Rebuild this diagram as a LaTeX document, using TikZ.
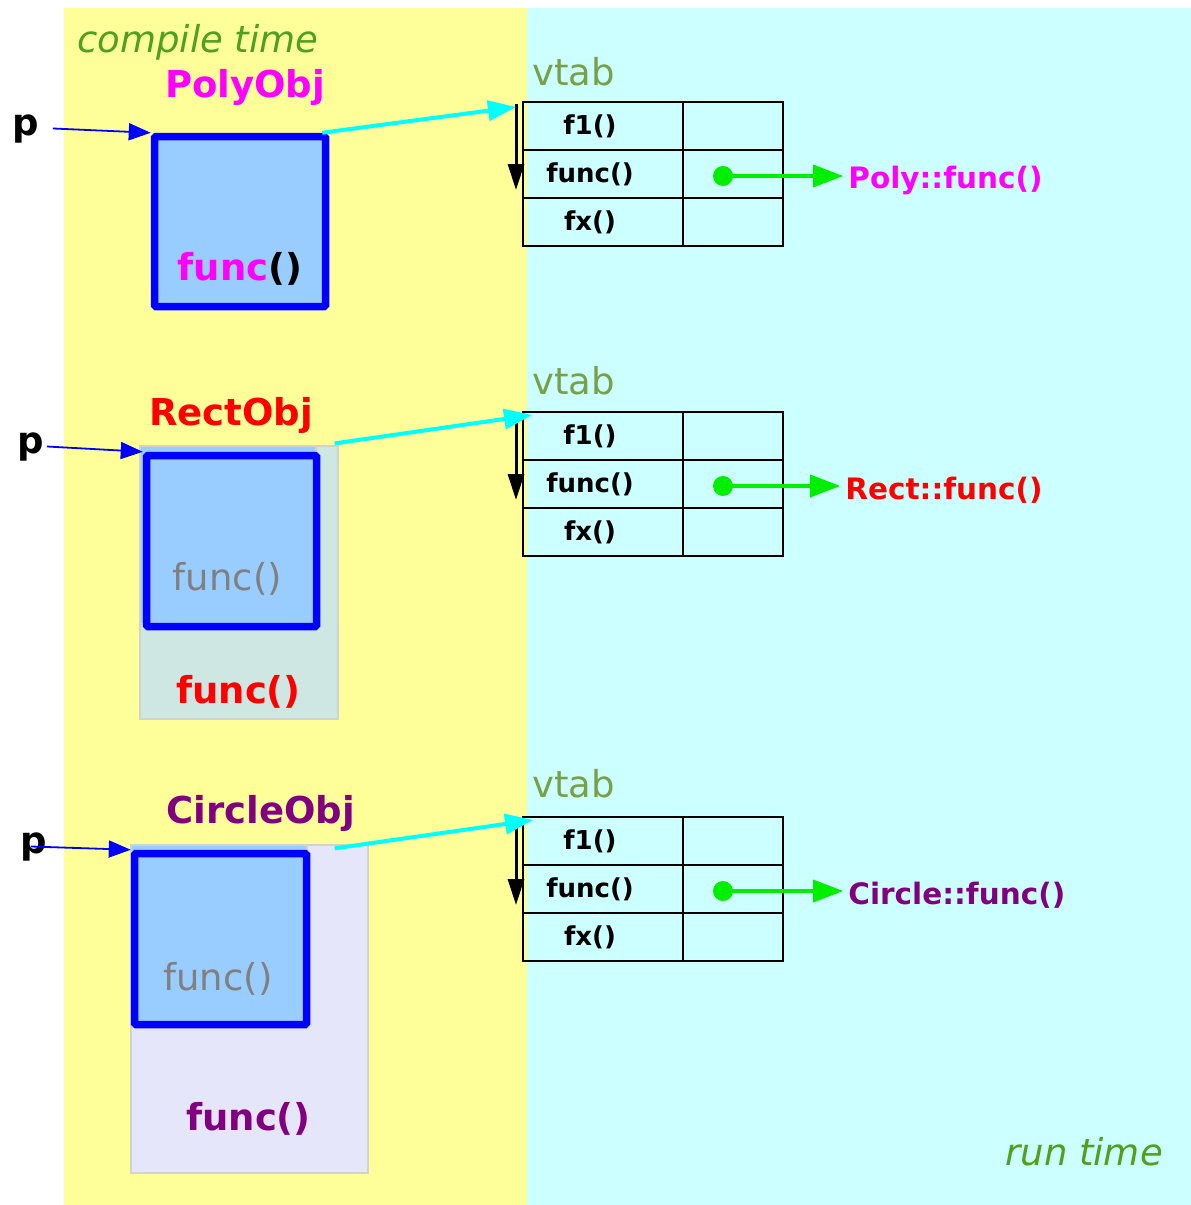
\documentclass[tikz,border=0pt]{standalone}
\usepackage{fontspec}
\setmainfont{DejaVu Sans}[BoldFont={DejaVu Sans Bold}, ItalicFont={DejaVu Sans Oblique}]
\usetikzlibrary{arrows.meta, positioning}
\definecolor{ctime}{RGB}{255,255,153}
\definecolor{rtime}{RGB}{204,255,255}
\definecolor{timetxt}{RGB}{80,160,30}
\definecolor{vttxt}{RGB}{120,160,70}
\definecolor{objblue}{RGB}{0,0,255}
\definecolor{objfill}{RGB}{153,204,255}
\definecolor{rectfill}{RGB}{207,231,227}
\definecolor{circfill}{RGB}{230,230,250}
\definecolor{ptrgreen}{RGB}{0,238,0}
\definecolor{vptr}{RGB}{0,255,255}
\definecolor{polymag}{RGB}{255,0,255}
\definecolor{rectred}{RGB}{255,0,0}
\definecolor{circpurple}{RGB}{128,0,128}
\tikzset{
  phase/.style={font=\fontsize{37}{44}\selectfont\itshape, text=timetxt, inner sep=0pt},
  objname/.style={font=\fontsize{37}{44}\selectfont\bfseries, inner sep=0pt},
  plbl/.style={font=\fontsize{37}{44}\selectfont\bfseries, inner sep=3pt},
  basefn/.style={font=\fontsize{37}{44}\selectfont, text=gray, inner sep=0pt},
  vtname/.style={font=\fontsize{37}{44}\selectfont, text=vttxt, inner sep=0pt},
  ftxt/.style={font=\fontsize{26}{31}\selectfont\bfseries, inner sep=0pt},
  tgt/.style={font=\fontsize{29.5}{35}\selectfont\bfseries, inner xsep=5pt, anchor=west},
  % object layout
  objframe/.style={rectangle, draw=objblue, line width=7.5pt, rounded corners=1.5pt, inner sep=0pt},
  basepart/.style={rectangle, fill=objfill, draw=gray!35, line width=1.2pt, inner sep=0pt},
  derived/.style={rectangle, draw=gray!35, line width=1.2pt, inner sep=0pt},
  % vtab cells
  cell/.style={rectangle, draw=black, line width=1.2pt, minimum width=160pt,
               minimum height=48pt, inner sep=0pt, outer sep=0pt},
  pcell/.style={cell, minimum width=100pt},
  dot/.style={circle, fill=ptrgreen, minimum size=20pt, inner sep=0pt},
  % pointers
  parr/.style={-{Triangle[length=22pt, width=17pt]}, draw=objblue, line width=1.8pt},
  varr/.style={-{Triangle[length=28pt, width=20pt]}, draw=vptr, line width=4pt},
  iarr/.style={-{Triangle[length=26pt, width=16pt]}, draw=black, line width=3pt},
  garr/.style={-{Triangle[length=30pt, width=22pt]}, draw=ptrgreen, line width=3.5pt}
}

\begin{document}
\begin{tikzpicture}[x=1pt, y=-1pt]
  \useasboundingbox (0,0) rectangle (1191,1205);
  \fill[ctime] (64,8) rectangle (527,1205);
  \fill[rtime] (527,8) rectangle (1191,1205);
  \node[phase, anchor=base west] (ctlbl) at (77,52) {compile time};
  \node[phase, anchor=base east] (rtlbl) at (1163,1165) {run time};

  % PolyObj
  \node[objname, text=polymag, anchor=base] (polyname) at (245,97) {PolyObj};
  \node[objframe, fill=objfill, minimum width=171pt, minimum height=170pt] (poly) at (240,221.5) {};
  \node[objname, anchor=base] (polyfn) at (240,280) {\textcolor{polymag}{func}()};
  \node[plbl, anchor=base west] (p1) at (9,135) {p};

  % RectObj
  \node[objname, text=rectred, anchor=base] (rectname) at (231,425) {RectObj};
  \node[derived, fill=rectfill, minimum width=198pt, minimum height=273pt] (rect) at (239,582.5) {};
  \node[basepart, minimum width=176pt, minimum height=178pt] (rectbase) at (228,535) {};
  \node[objframe, minimum width=170pt, minimum height=171pt] (rectptr) at (231.5,541) {};
  \node[basefn, anchor=base] (rectbfn) at (227.5,590) {func()};
  \node[objname, text=rectred, anchor=base] (rectfn) at (238.5,703) {func()};
  \node[plbl, anchor=base west] (p2) at (14,453) {p};

  % CircleObj
  \node[objname, text=circpurple, anchor=base] (circname) at (260.5,823) {CircleObj};
  \node[derived, fill=circfill, minimum width=237pt, minimum height=328pt] (circ) at (249.5,1009) {};
  \node[basepart, minimum width=176pt, minimum height=177pt] (circbase) at (219,933.5) {};
  \node[objframe, minimum width=172pt, minimum height=171pt] (circptr) at (220.5,939) {};
  \node[basefn, anchor=base] (circbfn) at (218,990) {func()};
  \node[objname, text=circpurple, anchor=base] (circfn) at (248.5,1130) {func()};
  \node[plbl, anchor=base west] (p3) at (17,853) {p};

  % vtabs
  \foreach \n/\y/\vb in {a/102/85, b/412/394, c/817/797} {
    \node[vtname, anchor=base west] (vt\n) at (532,\vb) {vtab};
    \node[cell, anchor=north west, label={[ftxt, xshift=-13pt]center:f1()}] (\n1) at (523,\y) {};
    \node[cell, below=0pt of \n1, label={[ftxt, xshift=-13pt]center:func()}] (\n2) {};
    \node[cell, below=0pt of \n2, label={[ftxt, xshift=-13pt]center:fx()}] (\n3) {};
    \node[pcell, right=0pt of \n1] (\n1p) {};
    \node[pcell, right=0pt of \n2] (\n2p) {};
    \node[pcell, right=0pt of \n3] (\n3p) {};
    \node[dot] (dot\n) at ([shift={(-10,2)}]\n2p.center) {};
    \draw[iarr] ([shift={(-7,2)}]\n1.north west) -- ([shift={(-7,-8)}]\n2.south west);
  }

  \node[tgt, text=polymag, right=110pt of dota, yshift=-4pt] (polytgt) {Poly::func()};
  \node[tgt, text=rectred, right=107pt of dotb, yshift=-4pt] (recttgt) {Rect::func()};
  \node[tgt, text=circpurple, right=110pt of dotc, yshift=-4pt] (circtgt) {Circle::func()};
  \draw[garr] (dota.center) -- (dota -| polytgt.west);
  \draw[garr] (dotb.center) -- (dotb -| recttgt.west);
  \draw[garr] (dotc.center) -- (dotc -| circtgt.west);

  \draw[parr] ([xshift=11pt]p1.east) -- (poly.north west);
  \draw[parr] (p2.east) -- (rectptr.north west);
  \draw[parr] ([xshift=-19pt]p3.east) -- (circptr.north west);

  \draw[varr] ([xshift=-7pt]poly.north east) -- ([shift={(-7,5)}]a1.north west);
  \draw[varr] ([shift={(-4,-2)}]rect.north east) -- ([shift={(9,3)}]b1.north west);
  \draw[varr] ([shift={(-34,4)}]circ.north east) -- ([shift={(10,3)}]c1.north west);
\end{tikzpicture}
\end{document}
